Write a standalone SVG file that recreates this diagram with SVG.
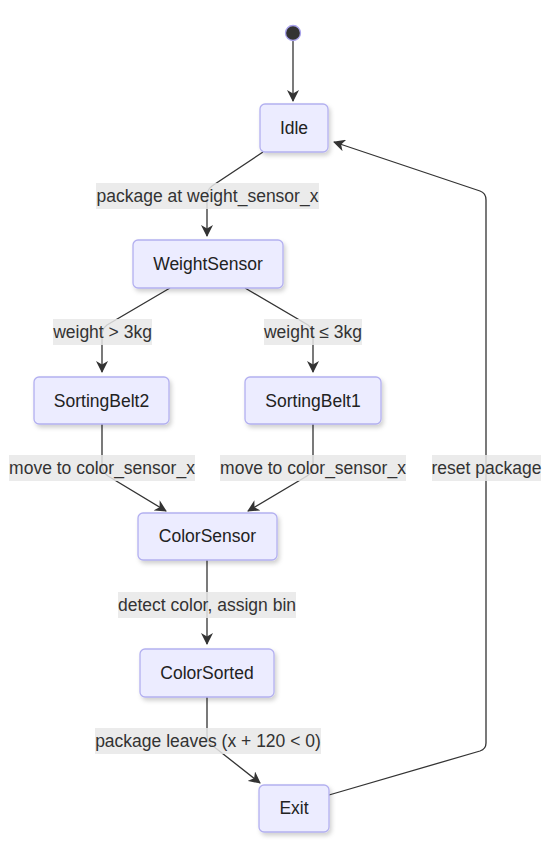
<svg xmlns="http://www.w3.org/2000/svg" width="550" height="852" viewBox="0 0 550 852">
<defs>
<style>
.node rect{fill:#ECECFF;stroke:#b3b0f0;stroke-width:1.3;filter:url(#sh);}
.node text{font-family:"Liberation Sans",Arial,sans-serif;font-size:17.5px;fill:#222;text-anchor:middle;dominant-baseline:central;}
.edge{fill:none;stroke:#333;stroke-width:1.3;}
.lbl rect{fill:#e8e8e8;opacity:0.85;}
.lbl text{font-family:"Liberation Sans",Arial,sans-serif;font-size:17.5px;fill:#333;text-anchor:middle;dominant-baseline:central;}
</style>
<filter id="sh" x="-20%" y="-20%" width="150%" height="160%">
<feDropShadow dx="2" dy="3" stdDeviation="2" flood-color="#000" flood-opacity="0.18"/>
</filter>
<marker id="ah" viewBox="0 0 12 12" refX="11" refY="6" markerWidth="12" markerHeight="12" markerUnits="userSpaceOnUse" orient="auto">
<path d="M0,0 L12,6 L0,12 L3.5,6 z" fill="#333"/>
</marker>
</defs>

<g id="connectors">
<path class="edge" d="M293,40 L293,101" marker-end="url(#ah)"/>
<path class="edge" d="M263,152 L212,186 Q207,190 207,196 L207,236" marker-end="url(#ah)"/>
<path class="edge" d="M170,288 L107,325 Q102,329 102,335 L102,372" marker-end="url(#ah)"/>
<path class="edge" d="M245,288 L308,325 Q313,329 313,335 L313,372" marker-end="url(#ah)"/>
<path class="edge" d="M102,424 L102,465 Q102,472 108,476 L166,511" marker-end="url(#ah)"/>
<path class="edge" d="M313,424 L313,465 Q313,472 307,476 L248,511" marker-end="url(#ah)"/>
<path class="edge" d="M207,560 L207,644" marker-end="url(#ah)"/>
<path class="edge" d="M207,697 L207,735 Q207,742 213,746 L260,783" marker-end="url(#ah)"/>
<path class="edge" d="M329,795 L480,751 Q486,749 486,743 L486,200 Q486,193 480,191 L334,142" marker-end="url(#ah)"/>
</g>

<g id="labels">
<g class="lbl"><rect x="96" y="183" width="223" height="26"/><text x="207.5" y="196">package at weight_sensor_x</text></g>
<g class="lbl"><rect x="53" y="319" width="99" height="26"/><text x="102.5" y="332">weight &gt; 3kg</text></g>
<g class="lbl"><rect x="264" y="319" width="98" height="26"/><text x="313" y="332">weight ≤ 3kg</text></g>
<g class="lbl"><rect x="9" y="455" width="186" height="26"/><text x="102" y="468">move to color_sensor_x</text></g>
<g class="lbl"><rect x="220" y="455" width="186" height="26"/><text x="313" y="468">move to color_sensor_x</text></g>
<g class="lbl"><rect x="432" y="455" width="109" height="26"/><text x="486.5" y="468">reset package</text></g>
<g class="lbl"><rect x="118" y="592" width="178" height="26"/><text x="207" y="605">detect color, assign bin</text></g>
<g class="lbl"><rect x="95" y="728" width="226" height="26"/><text x="208" y="741">package leaves (x + 120 &lt; 0)</text></g>
</g>

<g id="start"><circle cx="293" cy="33" r="7.5" fill="#333" stroke="#a9a3ec" stroke-width="1.3"/></g>
<g id="Idle" class="node"><rect x="260" y="104" width="68" height="48" rx="5"/><text x="294" y="128">Idle</text></g>
<g id="WeightSensor" class="node"><rect x="133" y="240" width="150" height="48" rx="5"/><text x="208" y="264">WeightSensor</text></g>
<g id="SortingBelt2" class="node"><rect x="34" y="377" width="135" height="47" rx="5"/><text x="101.5" y="401">SortingBelt2</text></g>
<g id="SortingBelt1" class="node"><rect x="245" y="377" width="136" height="47" rx="5"/><text x="313" y="401">SortingBelt1</text></g>
<g id="ColorSensor" class="node"><rect x="138" y="513" width="139" height="47" rx="5"/><text x="207.5" y="536">ColorSensor</text></g>
<g id="ColorSorted" class="node"><rect x="140" y="649" width="134" height="48" rx="5"/><text x="207" y="673">ColorSorted</text></g>
<g id="Exit" class="node"><rect x="259" y="785" width="70" height="47" rx="5"/><text x="294" y="808">Exit</text></g>
</svg>
